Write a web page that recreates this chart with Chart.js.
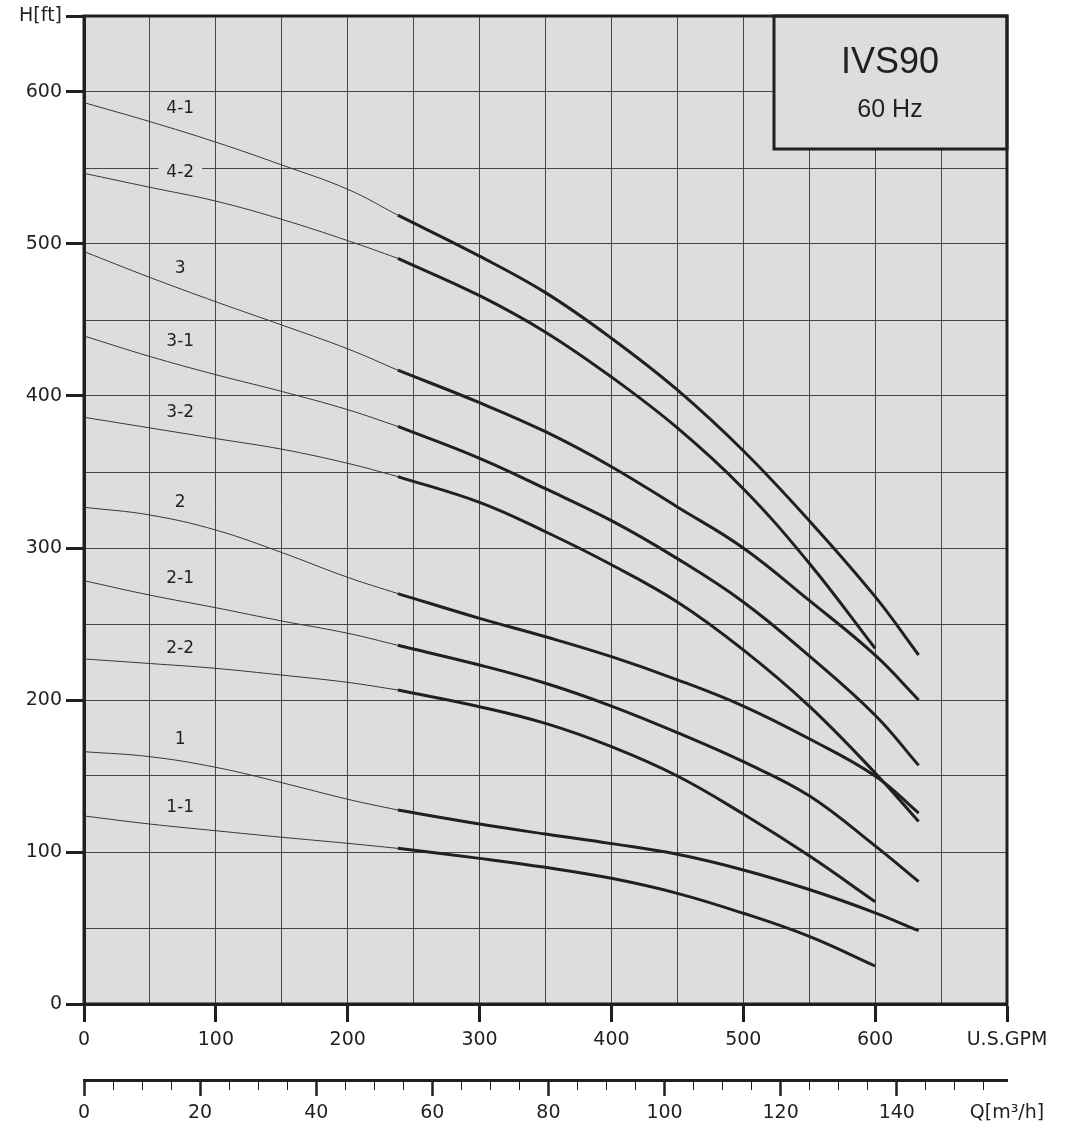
<!DOCTYPE html>
<html lang="en">
<head>
<meta charset="UTF-8">
<title>IVS90 60 Hz</title>
<style>
  body { margin: 0; background: #fff; }
</style>
</head>
<body>
<canvas id="pumpChart" width="1065" height="1136"></canvas>
<script src="https://cdn.jsdelivr.net/npm/chart.js@4.4.1/dist/chart.umd.min.js"></script>
<script>
// ------------------------------------------------------------------ data

var thinFlow = [0, 50, 100, 150, 200, 238]
var thickFlow = [238, 300, 350, 400, 450, 500, 550, 600, 633]
var curveNames = ['4-1', '4-2', '3', '3-1', '3-2', '2', '2-1', '2-2', '1', '1-1']

var thin41 = [593, 580.5, 567, 552, 536, 519]
var thick41 = [519, 492, 468, 438, 404, 364, 318, 268, 229.6]
var thin42 = [546.5, 537.3, 528.2, 516.2, 502.2, 490.6]
var thick42 = [490.6, 466, 442, 412.5, 379, 339, 290, 234, null]
var thin3 = [495, 478, 462, 446.7, 431, 417]
var thick3 = [417, 395.6, 376.5, 353.5, 327, 300, 265.5, 229.5, 200]
var thin31 = [439.5, 426, 414, 403, 391, 380]
var thick31 = [380, 359, 339, 318, 293, 264.5, 229, 190, 157]
var thin32 = [386, 379, 372, 365, 355.7, 347]
var thick32 = [347, 330, 310.7, 289, 264.5, 233, 196, 152, 120]
var thin2 = [326.8, 321.7, 311.8, 297, 280.7, 270]
var thick2 = [270, 253.7, 241.6, 228.5, 213.3, 196, 174.5, 150, 125.6]
var thin21 = [278.5, 269, 260.7, 252, 243.9, 236]
var thick21 = [236, 223, 211, 196, 178.5, 159.4, 137, 104, 80.5]
var thin22 = [227, 224, 220.8, 216.4, 211.6, 206.6]
var thick22 = [206.6, 195.6, 184.6, 169.3, 150, 125, 97.5, 67.3, null]
var thin1 = [166, 162.7, 155.7, 145.6, 134.7, 127.6]
var thick1 = [127.6, 118.4, 111.8, 105.5, 98.5, 88.2, 75.3, 60, 48.2]
var thin11 = [123.7, 118.4, 114, 109.7, 105.7, 102.4]
var thick11 = [102.4, 95.8, 89.9, 82.7, 72.8, 59.7, 44.5, 25, null]

var thinHeads = [thin41, thin42, thin3, thin31, thin32, thin2, thin21, thin22, thin1, thin11]
var thickHeads = [thick41, thick42, thick3, thick31, thick32, thick2, thick21, thick22, thick1, thick11]

var gpmPerM3h = 4.40287

// ----------------------------------------------------------------- style

var ink = '#231f20'
var plotGrey = '#dcdedd'
var gridColor = '#4a4647'
var tickFont = { family: "'DejaVu Sans', sans-serif", size: 19 }

// where the curve names sit (flow, head)
var labelFlow = 73
var labelHeads = [589, 547, 484, 436, 389, 330, 280, 234, 174, 129]

function points (xs, ys) {
  return xs.map(function (x, i) { return { x: x, y: ys[i] } })
}

var datasets = []
curveNames.forEach(function (name, i) {
  datasets.push({
    label: name + ' (out of range)',
    data: points(thinFlow, thinHeads[i]),
    borderColor: '#3a3637',
    borderWidth: 1,
    pointRadius: 0,
    tension: 0.4
  })
  datasets.push({
    label: name,
    data: points(thickFlow, thickHeads[i]),
    borderColor: ink,
    borderWidth: 3,
    pointRadius: 0,
    tension: 0.4
  })
})

// ----------------------------------------------------------- decorations

var chartFrame = {
  id: 'chartFrame',
  beforeDraw: function (chart) {
    var a = chart.chartArea
    var c = chart.ctx
    c.save()
    c.fillStyle = plotGrey
    c.fillRect(a.left, a.top, a.right - a.left, a.bottom - a.top)
    c.restore()
  },
  beforeDatasetsDraw: function (chart) {
    var c = chart.ctx
    var xs = chart.scales.x
    var ys = chart.scales.y
    c.save()
    c.font = "17px 'DejaVu Sans', sans-serif"
    c.textAlign = 'center'
    c.textBaseline = 'middle'
    curveNames.forEach(function (name, i) {
      var px = xs.getPixelForValue(labelFlow)
      var py = ys.getPixelForValue(labelHeads[i])
      var w = c.measureText(name).width + 16
      c.fillStyle = plotGrey
      c.fillRect(px - w / 2, py - 7, w, 14)
      c.fillStyle = ink
      c.fillText(name, px, py)
    })
    c.restore()
  },
  afterDraw: function (chart) {
    var a = chart.chartArea
    var c = chart.ctx
    c.save()
    // model box, top right
    var bx = a.right - 233
    var by = a.top
    c.fillStyle = plotGrey
    c.fillRect(bx, by, 233, 133)
    c.strokeStyle = ink
    c.lineWidth = 3
    c.strokeRect(bx, by, 233, 133)
    c.fillStyle = ink
    c.textAlign = 'center'
    c.textBaseline = 'middle'
    c.font = "36px 'Liberation Sans', Arial, sans-serif"
    c.fillText('IVS90', bx + 116, by + 47)
    c.font = "25px 'Liberation Sans', Arial, sans-serif"
    c.fillText('60 Hz', bx + 116, by + 94)
    // frame
    c.strokeRect(a.left, a.top, a.right - a.left, a.bottom - a.top)
    c.restore()
  }
}

// ----------------------------------------------------------------- chart

var ctx = document.getElementById('pumpChart').getContext('2d')

var myChart = new Chart(ctx, {
  type: 'line',
  data: { datasets: datasets },
  plugins: [chartFrame],
  options: {
    responsive: false,
    animation: false,
    events: [],
    layout: { padding: { left: 0, top: 16, right: 58, bottom: 0 } },
    plugins: {
      legend: { display: false },
      tooltip: { enabled: false },
      title: { display: false }
    },
    scales: {
      x: {
        type: 'linear',
        position: 'bottom',
        min: 0,
        max: 700,
        afterFit: function (s) { s.height = 76 },
        border: { display: true, color: ink, width: 3 },
        grid: {
          color: gridColor,
          lineWidth: 1,
          tickLength: 18,
          tickColor: function (c) { return c.tick && c.tick.value % 100 === 0 ? ink : 'rgba(0,0,0,0)' },
          tickWidth: 3
        },
        ticks: {
          stepSize: 50,
          autoSkip: false,
          maxRotation: 0,
          padding: 7,
          color: ink,
          font: tickFont,
          callback: function (v) {
            if (v === 700) return 'U.S.GPM'
            return v % 100 === 0 ? String(v) : ''
          }
        }
      },
      x2: {
        type: 'linear',
        position: 'bottom',
        min: 0,
        max: 700 / gpmPerM3h,
        afterFit: function (s) { s.height = 56 },
        afterBuildTicks: function (s) {
          s.ticks.push({ value: s.max })
        },
        border: { display: true, color: ink, width: 3 },
        grid: {
          drawOnChartArea: false,
          tickLength: 16,
          tickColor: function (c) {
            if (!c.tick || c.tick.value === c.scale.max) return 'rgba(0,0,0,0)'
            return ink
          },
          tickWidth: function (c) { return c.tick && c.tick.value % 20 === 0 ? 2.5 : 1 },
          tickBorderDash: function (c) { return c.tick && c.tick.value % 20 === 0 ? [] : [8, 40] }
        },
        ticks: {
          stepSize: 5,
          includeBounds: false,
          autoSkip: false,
          maxRotation: 0,
          padding: 6,
          color: ink,
          font: tickFont,
          callback: function (v) {
            if (Math.abs(v - 700 / gpmPerM3h) < 0.01) return 'Q[m³/h]'
            return v % 20 === 0 ? String(v) : ''
          }
        }
      },
      y: {
        type: 'linear',
        position: 'left',
        min: 0,
        max: 650,
        afterFit: function (s) { s.width = 84 },
        border: { display: true, color: ink, width: 3 },
        grid: {
          color: gridColor,
          lineWidth: 1,
          tickLength: 18,
          tickColor: function (c) {
            return c.tick && (c.tick.value % 100 === 0 || c.tick.value === 650) ? ink : 'rgba(0,0,0,0)'
          },
          tickWidth: 3
        },
        ticks: {
          stepSize: 50,
          autoSkip: false,
          padding: 4,
          color: ink,
          font: tickFont,
          callback: function (v) {
            if (v === 650) return 'H[ft]'
            return v % 100 === 0 ? String(v) : ''
          }
        }
      }
    }
  }
})
</script>
</body>
</html>
